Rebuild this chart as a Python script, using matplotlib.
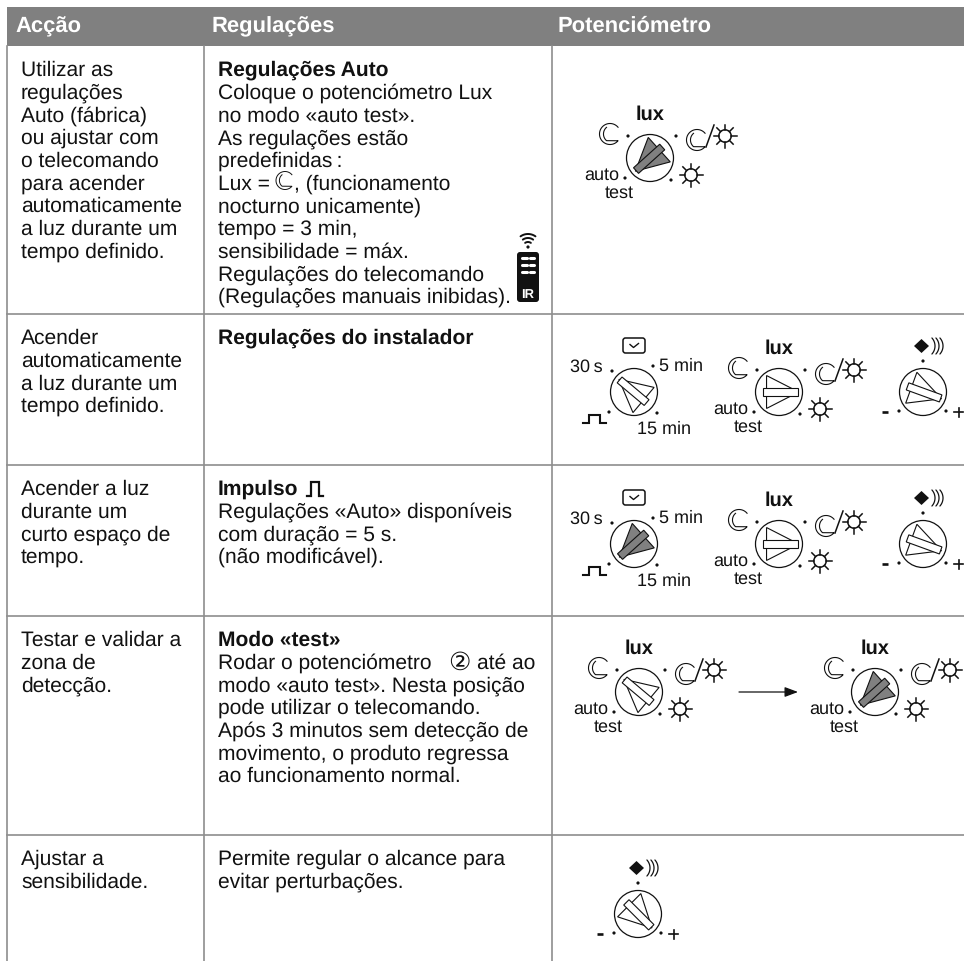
#!/usr/bin/env python3
# -*- coding: utf-8 -*-
"""Tabela de regulacoes (accao / regulacoes / potenciometro) redrawn in pixel coordinates"""

import numpy as np
import matplotlib
matplotlib.use("Agg")
import matplotlib.pyplot as plt
import matplotlib.patches as mpatches

plt.rcParams["text.hinting"] = "no_hinting"
plt.rcParams["text.hinting_factor"] = 1

W, H = 964, 962
FONT = ["Liberation Sans", "DejaVu Sans"]
GRID = "#8e8e8e"
INK = "#111111"
BODY_PX = 20.8
DIAL_PX = 18.0
LINE_STEP = 22.7

headers = ["Acção", "Regulações", "Potenciómetro"]
actions = [
    ["Utilizar as", "regulações", "Auto (fábrica)", "ou ajustar com", "o telecomando",
     "para acender", "automaticamente", "a luz durante um", "tempo definido."],
    ["Acender", "automaticamente", "a luz durante um", "tempo definido."],
    ["Acender a luz", "durante um", "curto espaço de", "tempo."],
    ["Testar e validar a", "zona de", "detecção."],
    ["Ajustar a", "sensibilidade."],
]
titles = ["Regulações Auto", "Regulações do instalador", "Impulso", "Modo «test»", None]
settings = [
    ["Coloque o potenciómetro Lux", "no modo «auto test».", "As regulações estão",
     "predefinidas\u2009:", "Lux =", "nocturno unicamente)", "tempo = 3 min,",
     "sensibilidade = máx.", "Regulações do telecomando", "(Regulações manuais inibidas)."],
    [],
    ["Regulações «Auto» disponíveis", "com duração = 5 s.", "(não modificável)."],
    ["Rodar o potenciómetro", "modo «auto test». Nesta posição",
     "pode utilizar o telecomando.", "Após 3 minutos sem detecção de",
     "movimento, o produto regressa", "ao funcionamento normal."],
    ["Permite regular o alcance para", "evitar perturbações."],
]
row_tops = [47, 315, 466, 617, 836]
column_lines = [7, 204, 552]

# dial kind, x, y, pointer angle (degrees, counter clockwise), filled pointer
dials = [
    ("lux", 650, 159, 222, True),
    ("time", 634, 393, 140, False),
    ("lux", 779, 393, 0, False),
    ("sens", 923, 393, -20, False),
    ("time", 634, 545, 222, True),
    ("lux", 779, 545, 0, False),
    ("sens", 923, 545, -20, False),
    ("lux", 639, 693, 140, False),
    ("lux", 875, 693, 222, True),
    ("sens", 638, 915, -45, False),
]


def px(size):
    return size * 0.72


def put(ax, x, y, s, size=BODY_PX, bold=False, ha="left", color=INK):
    ax.text(x, y, s, fontsize=px(size), family=FONT, ha=ha, va="baseline", color=color,
            fontweight="bold" if bold else "normal")


def arc(ax, cx, cy, r, a0, a1, lw=1.0, color=INK):
    t = np.radians(np.linspace(a0, a1, 40))
    ax.plot(cx + r * np.cos(t), cy - r * np.sin(t), color=color, lw=lw, solid_capstyle="round")


def moon(ax, cx, cy, r=10.5, lw=0.8):
    # outer arc from horn to horn, then a smaller circle back through the two horns
    t = np.radians(np.linspace(40, 320, 60))
    s = np.radians(np.linspace(131, 229, 30))
    xs = np.r_[r * np.cos(t), 0.22 * r + 0.84 * r * np.cos(s)[::-1]]
    ys = np.r_[-r * np.sin(t), -0.84 * r * np.sin(s)[::-1]]
    ax.plot(cx + xs, cy + ys, color=INK, lw=lw, solid_joinstyle="round")


def sun(ax, cx, cy, r=6.2, ray=11.5):
    ax.add_patch(mpatches.Circle((cx, cy), r, fill=False, ec=INK, lw=1.1))
    for a in np.radians(np.arange(0, 360, 45)):
        ax.plot([cx + r * np.cos(a), cx + ray * np.cos(a)],
                [cy + r * np.sin(a), cy + ray * np.sin(a)], color=INK, lw=1.1)


def pulse(ax, x, y, w, h, lw=1.4):
    xs = np.array([0, 0.24, 0.24, 0.72, 0.72, 1.0]) * w + x
    ys = np.array([1, 1, 0, 0, 1, 1]) * h + y
    ax.plot(xs, ys, color=INK, lw=lw, solid_joinstyle="miter")


def dot(ax, x, y, r=1.6):
    ax.add_patch(mpatches.Circle((x, y), r, color=INK, lw=0))


def pointer(ax, cx, cy, r, angle, filled):
    a = np.radians(angle)
    u = np.array([np.cos(a), -np.sin(a)])
    n = np.array([np.sin(a), np.cos(a)])
    face = "#808080" if filled else "white"

    def shape(points):
        pts = [(cx + r * (p * u[0] + q * n[0]), cy + r * (p * u[1] + q * n[1])) for p, q in points]
        ax.add_patch(mpatches.Polygon(pts, closed=True, fc=face, ec=INK, lw=0.8, zorder=3))

    shape([(0.84, 0), (-0.53, 0.70), (-0.53, -0.70)])
    shape([(0.80, 0.16), (-0.70, 0.16), (-0.70, -0.16), (0.80, -0.16)])


def dial(ax, kind, cx, cy, angle, filled):
    r = 23.5
    ax.add_patch(mpatches.Circle((cx, cy), r, fc="white", ec=INK, lw=0.9, zorder=2))
    pointer(ax, cx, cy, r, angle, filled)
    if kind == "lux":
        put(ax, cx, cy - 39, "lux", size=20, ha="center", bold=True)
        moon(ax, cx - 40, cy - 24)
        moon(ax, cx + 47, cy - 18)
        ax.plot([cx + 56, cx + 64], [cy - 11, cy - 33], color=INK, lw=1.1)
        sun(ax, cx + 75, cy - 22)
        sun(ax, cx + 41, cy + 17)
        put(ax, cx - 31, cy + 21, "auto", size=DIAL_PX, ha="right")
        put(ax, cx - 31, cy + 39, "test", size=DIAL_PX, ha="center")
        for dx, dy in [(-22, -22), (26, -22), (-25, 20), (21, 22)]:
            dot(ax, cx + dx, cy + dy)
    elif kind == "time":
        ax.add_patch(mpatches.FancyBboxPatch((cx - 11, cy - 54), 22, 15, boxstyle="round,pad=0,rounding_size=2.5",
                                             fc="white", ec=INK, lw=1.1))
        ax.plot([cx - 4, cx - 0.5, cx + 4.5], [cy - 47.5, cy - 44.5, cy - 48.5], color=INK, lw=1.0)
        put(ax, cx - 31, cy - 21, "30\u2009s", size=DIAL_PX, ha="right")
        put(ax, cx + 25, cy - 22, "5 min", size=DIAL_PX)
        put(ax, cx + 3, cy + 41, "15 min", size=DIAL_PX)
        pulse(ax, cx - 51, cy + 23, 23, 8, lw=1.5)
        for dx, dy in [(-22, -21), (19, -26), (-25, 20), (23, 21)]:
            dot(ax, cx + dx, cy + dy)
    else:
        ax.add_patch(mpatches.Polygon([(cx - 9, cy - 46), (cx - 1.5, cy - 53), (cx + 6, cy - 46), (cx - 1.5, cy - 39)],
                                      closed=True, color=INK, lw=0))
        for shift in [0, 4, 8]:
            arc(ax, cx + shift, cy - 46, 12, -42, 42, lw=0.9)
        dot(ax, cx, cy - 31)
        dot(ax, cx - 24, cy + 19)
        dot(ax, cx + 23, cy + 19)
        ax.plot([cx - 41, cx - 35], [cy + 20, cy + 20], color=INK, lw=1.9, solid_capstyle="butt")
        ax.plot([cx + 31, cx + 40], [cy + 20, cy + 20], color=INK, lw=1.2)
        ax.plot([cx + 35.5, cx + 35.5], [cy + 15.5, cy + 24.5], color=INK, lw=1.2)


def remote(ax, x, y, w, h):
    ax.add_patch(mpatches.FancyBboxPatch((x, y), w, h, boxstyle="round,pad=0,rounding_size=3", color=INK, lw=0))
    cx = x + w / 2
    for k in range(3):
        yy = y + 6 + k * 7
        ax.plot([x + 5, cx - 1.5], [yy, yy], color="white", lw=2.2, solid_capstyle="round")
        ax.plot([cx + 1.5, x + w - 5], [yy, yy], color="white", lw=2.2, solid_capstyle="round")
    put(ax, cx, y + h - 5, "IR", size=13, bold=True, ha="center", color="white")
    for rr in [5, 9, 13]:
        arc(ax, cx, y - 5, rr, 55, 125, lw=1.4)
    dot(ax, cx, y - 5, 1.6)


def main():
    fig = plt.figure(figsize=(W / 100, H / 100), dpi=100)
    ax = fig.add_axes([0, 0, 1, 1])
    ax.set_xlim(0, W)
    ax.set_ylim(H, 0)
    ax.axis("off")

    # header band and grid
    ax.add_patch(mpatches.Rectangle((7, 8), W - 7, 39, color="#808080", lw=0))
    for x in column_lines:
        ax.plot([x, x], [47, H], color=GRID, lw=1.2, zorder=1)
    for y in row_tops[1:]:
        ax.plot([7, W], [y, y], color=GRID, lw=1.2, zorder=1)
    for x, name in zip([15, 212, 558], headers):
        put(ax, x, 32, name, size=22, bold=True, color="white")

    # text columns
    for top, lines in zip(row_tops, actions):
        for i, s in enumerate(lines):
            put(ax, 21, top + 29 + i * LINE_STEP, s)
    for top, title, lines in zip(row_tops, titles, settings):
        y = top + 29
        if title:
            put(ax, 217.5, y, title, size=20.6, bold=True)
            y += LINE_STEP
        for i, s in enumerate(lines):
            put(ax, 217.5, y + i * LINE_STEP, s)

    # the bits that sit inside the text
    lux_y = row_tops[0] + 29 + 5 * LINE_STEP
    moon(ax, 285, lux_y - 8, r=9, lw=0.7)
    put(ax, 294, lux_y, ", (funcionamento")
    pulse(ax, 307, 483, 16, 14, lw=1.6)
    remote(ax, 517, 253, 22, 50)
    rodar_y = row_tops[3] + 29 + LINE_STEP
    put(ax, 448, rodar_y + 1, "②", size=25)
    put(ax, 477, rodar_y, "até ao")

    for kind, cx, cy, angle, filled in dials:
        dial(ax, kind, cx, cy, angle, filled)

    # arrow between the two lux dials
    ax.annotate("", xy=(798, 693), xytext=(739, 693),
                arrowprops=dict(arrowstyle="-|>,head_width=0.3,head_length=0.8", color=INK, lw=0.9,
                                shrinkA=0, shrinkB=0))

    fig.savefig("out.png", dpi=100, facecolor="white")


if __name__ == "__main__":
    main()
